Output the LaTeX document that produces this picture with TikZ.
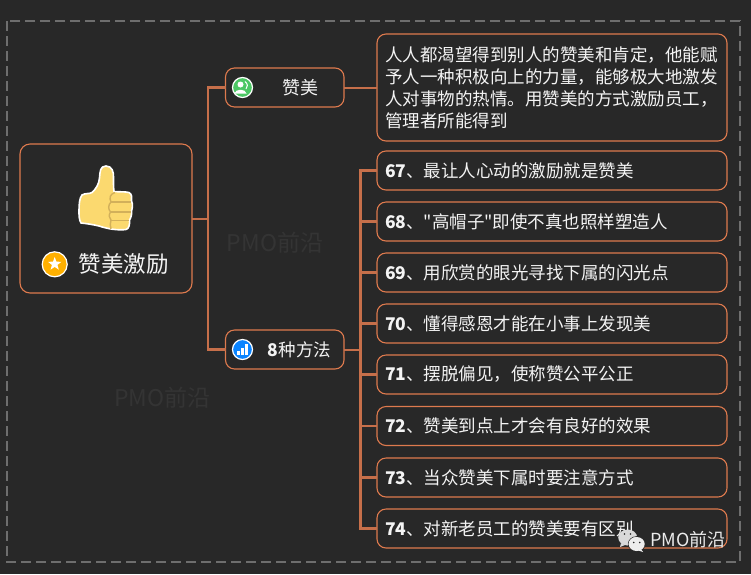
\documentclass[tikz,border=0pt]{standalone}
\usepackage{fontspec}
\newfontfamily\cjk{Noto Sans CJK SC}
\usetikzlibrary{shapes.geometric}
\definecolor{bgc}{HTML}{282828}
\definecolor{edgec}{HTML}{DE7A4E}
\definecolor{connc}{HTML}{C66F4A}
\definecolor{txtc}{HTML}{F4F4F4}
\definecolor{markc}{HTML}{343434}
\definecolor{framec}{HTML}{6E6E6E}
\definecolor{thumbc}{HTML}{FBD96F}
\definecolor{foldc}{HTML}{D2B05A}
\tikzset{
  x=1pt,y=-1pt,
  basebox/.style={draw=edgec,line width=1.1pt,rounded corners=9pt,fill=bgc,text=txtc,inner sep=0pt,outer sep=0pt},
  itembox/.style={basebox,text width=334pt,inner xsep=8pt,minimum height=39pt,align=left,font=\cjk\fontsize{17.5}{22}\selectfont},
  topicbox/.style={basebox,minimum width=118.5pt,minimum height=39pt},
  conn/.style={draw=connc,line width=2.4pt,line join=miter},
  stub/.style={draw=connc,line width=2pt},
  plain/.style={text=txtc,inner sep=0pt,font=\cjk\fontsize{18}{22}\selectfont},
  wmark/.style={text=markc,inner sep=0pt,font=\cjk\fontsize{23}{26}\selectfont},
  badge/.style={circle,draw=white,line width=1.2pt,inner sep=0pt},
}
\begin{document}
\begin{tikzpicture}
\useasboundingbox[fill=bgc] (0,0) rectangle (751,574);
\draw[framec,line width=1.4pt,dash pattern=on 10pt off 5pt] (7,21) rectangle (740,562);
\node[wmark] (w1) at (275,243) {PMO前沿};
\node[wmark] (w2) at (162.5,398) {PMO前沿};
% junctions
\coordinate (j1) at (208,218.5);
\coordinate (j2) at (360.5,349.5);
% boxes
\node[basebox,minimum width=172pt,minimum height=149pt,rounded corners=10pt] (root) at (106,218.5) {};
\node[topicbox] (zan) at (284.75,87.5) {};
\node[topicbox] (fang) at (284.75,349.5) {};
\node[itembox,minimum height=107pt] (desc) at (552,87.5) {人人都渴望得到别人的赞美和肯定，他能赋\\予人一种积极向上的力量，能够极大地激发\\人对事物的热情。用赞美的方式激励员工，\\管理者所能得到};
\node[itembox] (i67) at (552,170.5) {\textbf{67}、最让人心动的激励就是赞美};
\node[itembox] (i68) at (552,221.5) {\textbf{68}、"高帽子"即使不真也照样塑造人};
\node[itembox] (i69) at (552,272.5) {\textbf{69}、用欣赏的眼光寻找下属的闪光点};
\node[itembox] (i70) at (552,323.5) {\textbf{70}、懂得感恩才能在小事上发现美};
\node[itembox] (i71) at (552,374.5) {\textbf{71}、摆脱偏见，使称赞公平公正};
\node[itembox] (i72) at (552,426) {\textbf{72}、赞美到点上才会有良好的效果};
\node[itembox] (i73) at (552,477.5) {\textbf{73}、当众赞美下属时要注意方式};
\node[itembox] (i74) at (552,528.5) {\textbf{74}、对新老员工的赞美要有区别};
% connectors
\draw[stub] (root.east) -- (j1);
\draw[conn] (j1) |- (zan.west);
\draw[conn] (j1) |- (fang.west);
\draw[stub] (zan.east) -- (desc.west);
\draw[stub] (fang.east) -- (j2);
\foreach \n in {i67,i68,i69,i70,i71,i72,i73,i74}{\draw[conn] (j2) |- (\n.west);}
% topic labels
\node[plain] (zant) at (300,88) {赞美};
\node[plain,font=\cjk\fontsize{17.5}{22}\selectfont] (fangt) at (299.5,350) {\textbf{8}种方法};
\node[plain,font=\cjk\fontsize{22.5}{26}\selectfont] (roott) at (123.5,264) {赞美激励};
% badges
\node[badge,minimum size=25pt,fill={rgb,255:red,255;green,176;blue,0}] (b1) at (54.7,264.3) {};
\node[star,star points=5,star point ratio=2.4,fill=white,minimum size=14pt,inner sep=0pt] (s1) at (54.7,264) {};
\node[badge,minimum size=20pt,fill={rgb,255:red,76;green,199;blue,100}] (b2) at (242.5,87.5) {};
\fill[white] (240.5,84.5) circle (3pt);
\fill[white] (234.5,93.5) .. controls (235,88.5) and (246,88.5) .. (246.5,93.5) -- cycle;
\draw[white,line width=1pt] (245,81.5) .. controls (248,84) and (248,87) .. (246,89);
\node[badge,minimum size=20pt,fill={rgb,255:red,10;green,132;blue,255}] (b3) at (242.5,349.5) {};
\fill[white] (237,351) rectangle (239.5,354.5);
\fill[white] (241,347.5) rectangle (243.5,354.5);
\fill[white] (245,344) rectangle (247.5,354.5);
% thumb
\draw[white,line width=1.6pt,fill=thumbc,line join=round]
 (79,211) .. controls (79,204) and (79.5,198) .. (82,195)
 .. controls (85,193) and (90,194) .. (92,192.5)
 .. controls (96,189) and (99,184) .. (99.5,178)
 .. controls (100,172) and (100,166) .. (106,166)
 .. controls (112,166) and (114,172) .. (113.5,178)
 .. controls (113.5,184) and (113.5,188) .. (114,191.5)
 .. controls (119,192) and (125,191.5) .. (129,192.5)
 .. controls (132,194) and (132,198) .. (131.5,201)
 .. controls (133,204) and (132.5,208) .. (131.5,211)
 .. controls (132,214) and (131,218) .. (129.5,220)
 .. controls (130,224) and (129,229) .. (126,229.5)
 .. controls (118,230.5) and (108,229) .. (99,226)
 .. controls (93,224.5) and (86,223.5) .. (81,223)
 .. controls (79,220) and (79,215) .. (79,211) -- cycle;
\draw[foldc,line width=1.4pt] (115,192.5) .. controls (110,194) and (109,198) .. (111,202)
 .. controls (108,205) and (108,209) .. (110.5,212)
 .. controls (108.5,215) and (109,218) .. (111,220)
 .. controls (110,223) and (110,226) .. (111,229);
\draw[foldc,line width=1.4pt] (111,202) -- (130.5,202);
\draw[foldc,line width=1.4pt] (110.5,212) -- (130.5,212);
\draw[foldc,line width=1.4pt] (111,220.5) -- (128.5,220.5);
% signature
\fill[white!85!black] (627.7,537.5) ellipse (9.5pt and 8pt);
\fill[white!85!black] (621,543) -- (620,547) -- (625,545) -- cycle;
\draw[bgc,line width=.6pt] (636.7,544) ellipse (8.5pt and 7.5pt);
\fill[white!93!black] (636.7,544) ellipse (8pt and 7pt);
\fill[white!93!black] (641,549) -- (643,552) -- (637,550) -- cycle;
\fill[bgc] (633.7,542.5) circle (.9pt) (639.7,542.5) circle (.9pt);
\fill[bgc] (624.5,534) circle (.9pt) (630.5,534) circle (.9pt);
\node[plain,font=\cjk\fontsize{18}{20}\selectfont,text=white!92!black] (sig) at (688,540) {PMO前沿};
\end{tikzpicture}
\end{document}
